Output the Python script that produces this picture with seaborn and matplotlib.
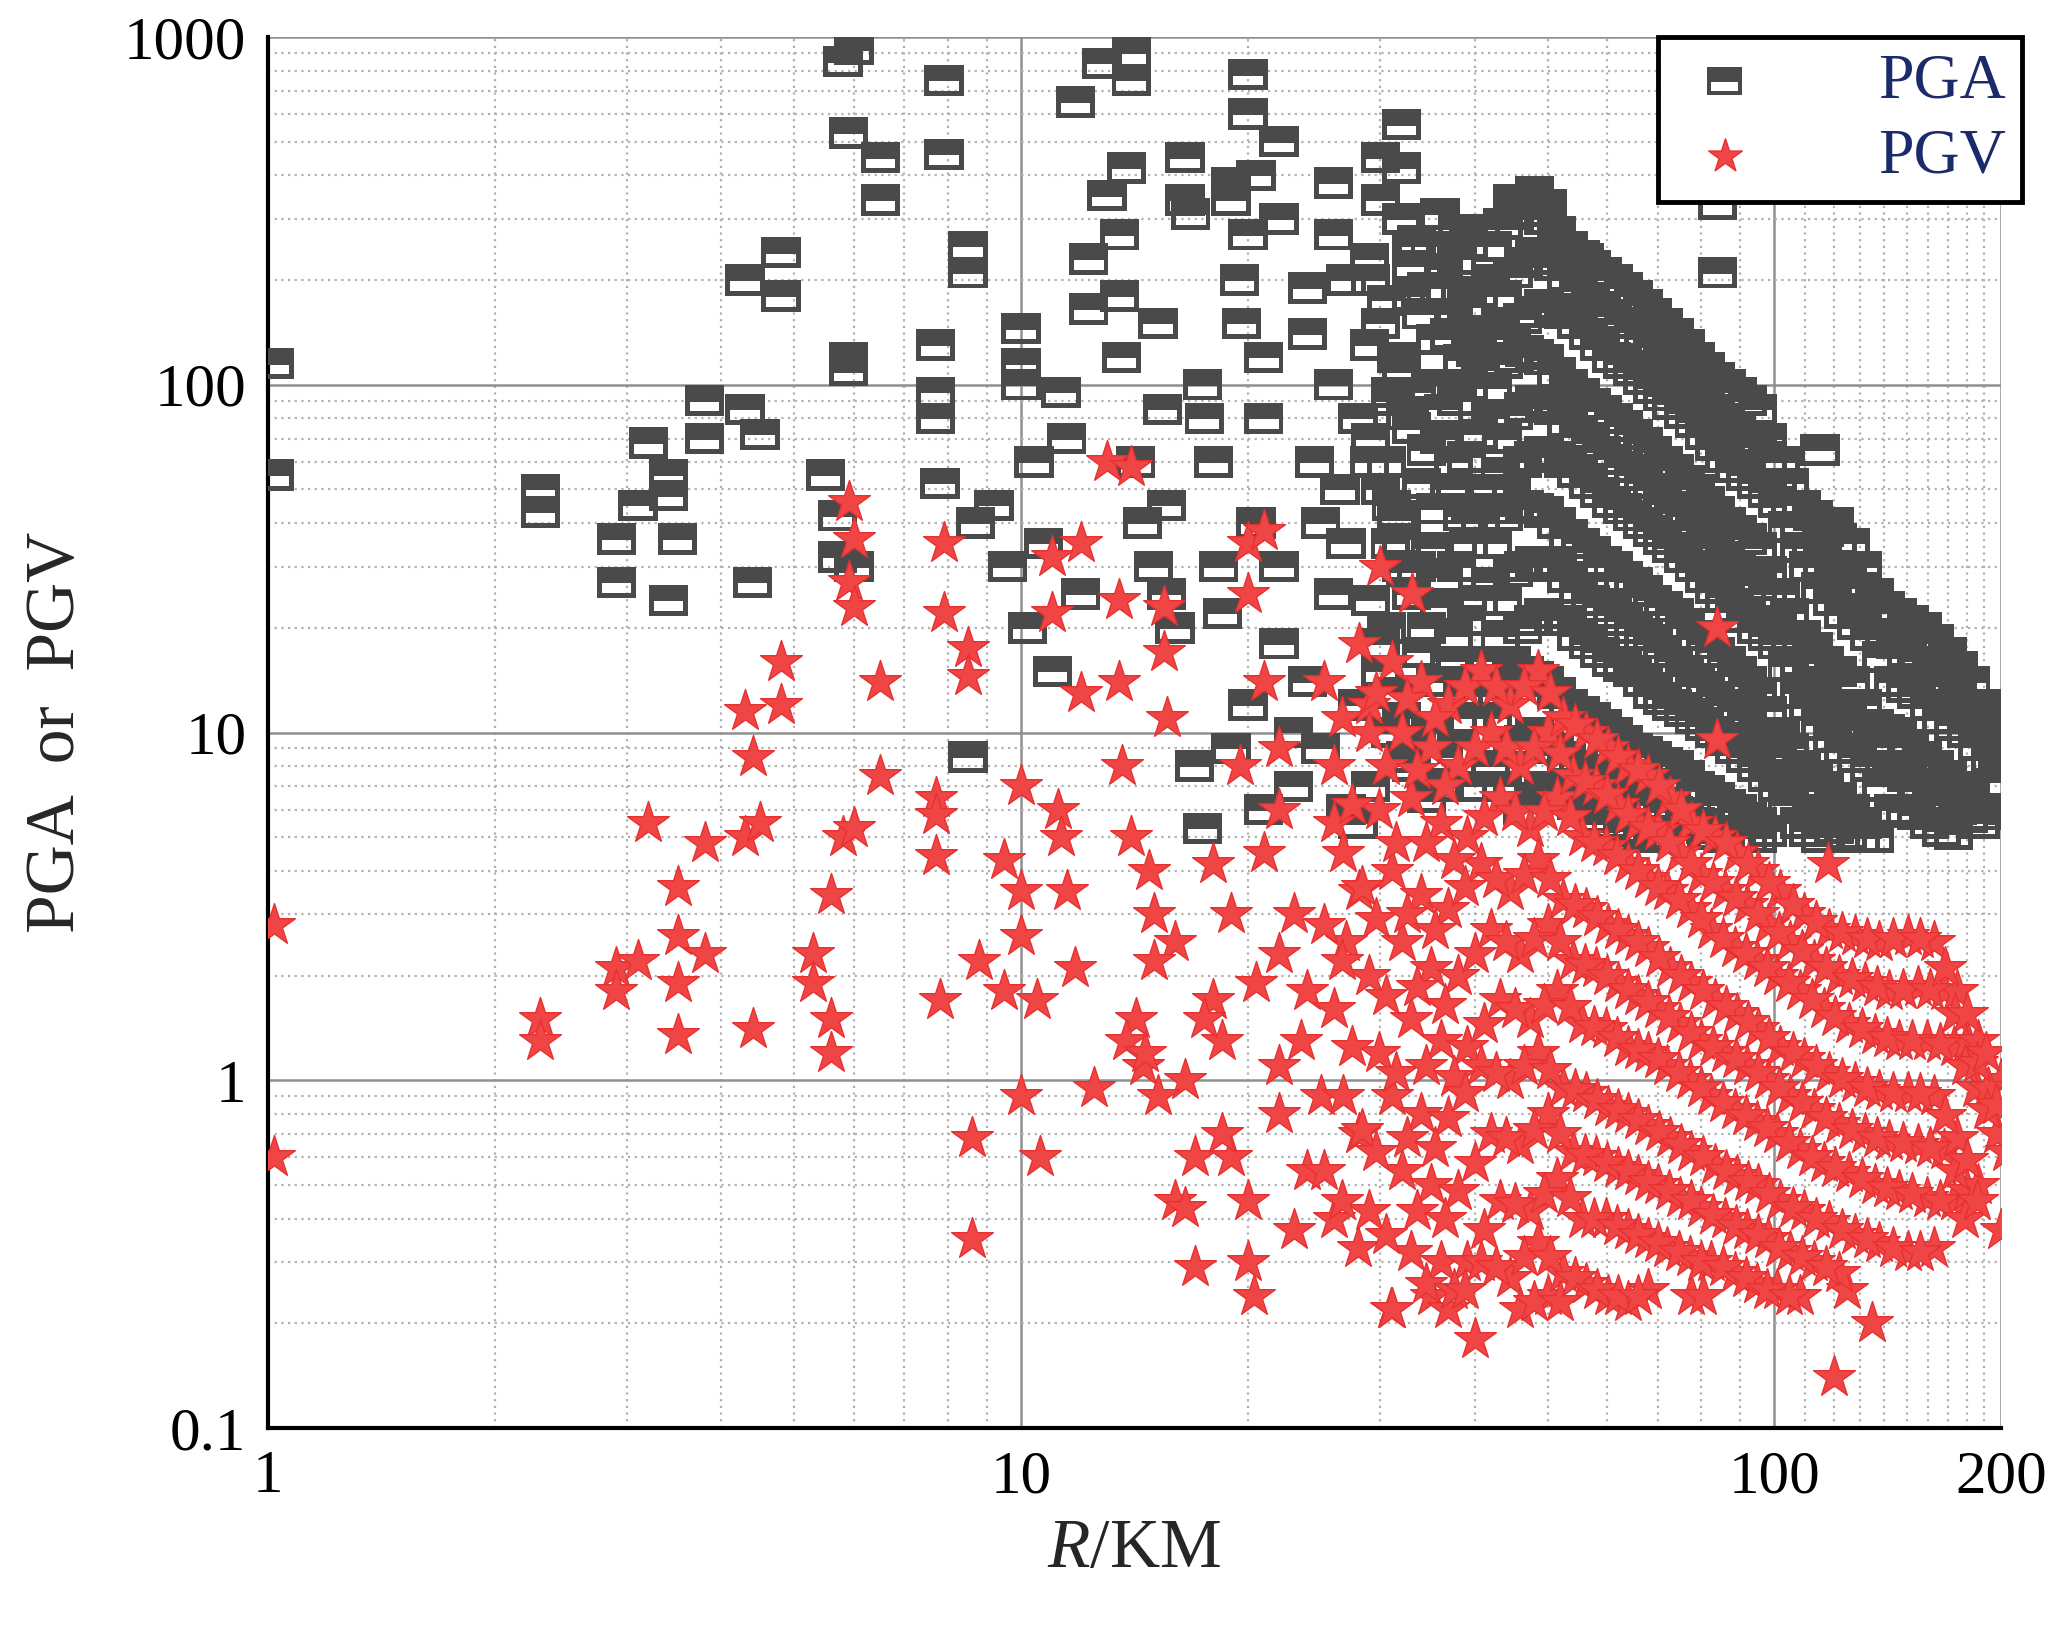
import matplotlib
matplotlib.use("Agg")
import matplotlib.pyplot as plt
import seaborn as sns
import pandas as pd
from matplotlib.path import Path
from matplotlib.ticker import FixedLocator, NullFormatter

# PGA points (R km, PGA)
pga_sparse = [(1.02,115),(1.02,55),(2.3,50),(2.3,43),(2.9,36),(2.9,27),(3.1,45),(3.2,68),(3.4,55),(3.4,48),
 (3.5,36),(3.4,24),(3.8,90),(3.8,70),(4.3,85),(4.3,200),(4.5,72),(4.4,27),(4.8,240),(4.8,180),(5.5,55),
 (5.7,42),(5.7,32),(6.0,30),(5.8,850),(6.0,920),(5.9,530),(5.9,120),(5.9,110),(6.5,450),(6.5,340),
 (7.7,130),(7.7,95),(7.7,80),(7.8,52),(7.9,750),(7.9,460),(8.5,250),(8.5,210),(8.5,8.5),(8.7,40),
 (9.2,45),(9.6,30),(10,145),(10,115),(10,100),(10.2,20),(10.4,60),(10.7,35),(11,15),(11.3,95),(11.5,70),
 (11.8,650),(12,25),(12.3,230),(12.3,165),(12.8,840),(13,350),(13.5,270),(13.5,180),(13.6,120),(13.8,420),
 (14,900),(14,750),(14.2,60),(14.5,40),(15,30),(15.2,150),(15.4,85),(15.6,45),(15.6,25),(16,20),(16.5,450),
 (16.5,340),(16.8,310),(17,8),(17.4,5.3),(17.4,100),(17.5,80),(18,60),(18.3,30),(18.5,22),(19,340),(19,380),
 (19.5,200),(19.6,150),(20,780),(20,600),(20,270),(20.5,400),(20.5,40),(21,120),(21,80),(22,500),(22,300),
 (22,30),(23,10),(23,7),(24,190),(24,140),(24.5,60),(25,40),(26,380),(26,270),(26,100),(26.5,50),(27,6),
 (27,200),(28,80),(29,230),(29,130),(30,450),(30,340),(31,90),(32,560),(32,420),(32,30),(33,250),(33,180),
 (19,9),(20,12),(21,6),(22,18),(24,14),(25,9),(26,25),(28,12),(27,35),(29,60),(30,18),(31,45),(28,5.5),
 (84,330),(84,210),(115,65),(120,40),(36,310),(38,280),(45,340),(48,360),(50,330),(52,250),(56,230)]
pga_cols = {
 30: [200,150,95,70,50,35,24,15,10,7],
 33: [300,220,160,110,75,52,36,25,17,11,8],
 36: [250,190,140,100,70,50,34,23,16,10,7],
 39: [230,170,125,90,62,44,30,21,14,9],
 42: [280,200,150,110,80,56,40,27,19,13,8],
 45: [290,210,155,115,82,60,42,29,20,14,9,6],
 48: [330,240,170,125,90,64,45,31,22,15,10,7],
 51: [300,220,160,118,85,60,43,30,21,14,9,6.5],
 55: [250,190,140,100,72,52,37,26,18,12,8,6],
 59: [220,165,120,88,64,46,33,23,16,11,7.5,5.5],
 63: [200,150,110,80,58,42,30,21,15,10,7,5.2],
 67: [180,135,98,72,52,38,27,19,13,9,6.5,5],
 71: [160,120,88,64,47,34,24,17,12,8.5,6,5],
 76: [140,105,78,57,42,30,22,15,11,8,5.8],
 81: [120,90,67,50,36,26,19,13.5,10,7,5.3],
 86: [105,80,58,43,32,23,17,12,9,6.5,5],
 92: [95,70,52,38,28,20,15,11,8,6,5],
 98: [85,62,46,34,25,18,13,9.5,7,5.5],
 105: [60,45,34,25,18,13,10,7.5,5.5],
 112: [45,34,26,19,14,10.5,8,6,5],
 120: [38,29,22,16,12,9,7,5.3],
 130: [35,26,19,14,10.5,8,6,5],
 140: [25,19,14,10.5,8,6,5],
 150: [22,17,13,10,7.5,5.8],
 162: [20,15,11,8.5,6.5,5.2],
 175: [17,13,10,7.5,6],
 188: [14,11,8.5,6.5,5.5],
 198: [10,8,6],
}
pga_cols_b = {
 31.5: [175,120,82,60,42,29,20,13,8.5],
 34.5: [260,190,135,95,65,44,30,20,14,9.5,6.5],
 37.5: [215,160,118,85,60,42,28,19,13,8.5],
 40.5: [255,185,138,100,72,50,35,24,16,11,7],
 43.5: [250,180,135,98,70,50,35,24,16,11,7],
 46.5: [310,225,162,120,86,62,44,30,21,14.5,9.5,6.5],
 49.5: [315,230,165,122,88,62,44,30,21,14.5,9.5,6.8],
 53: [275,205,150,108,78,56,40,28,19,13,8.5,6.2],
 57: [235,178,130,94,68,49,35,24,17,11.5,7.8,5.7],
 61: [210,158,115,84,61,44,31,22,15.5,10.5,7.2,5.3],
 65: [190,142,104,76,55,40,28,20,14,9.5,6.8,5.1],
 69: [170,128,93,68,50,36,25.5,18,12.5,8.8,6.2,5],
 73.5: [150,112,83,60,44,32,23,16,11.5,8.2,5.9],
 78.5: [130,97,72,53,39,28,20.5,14,10.5,7.5,5.5],
 83.5: [112,85,62,46,34,24.5,18,12.7,9.5,6.8,5.1],
 89: [100,75,55,40,30,21.5,16,11.5,8.5,6.2,5],
 95: [90,66,49,36,26.5,19,14,10,7.5,5.7,5],
 101: [70,52,39,29,21,15.5,11.5,8.5,6.2,5.2],
 108: [52,39,30,22,16,12,9,6.8,5.2],
 116: [42,31,24,17.5,13,9.7,7.5,5.6],
 125: [36,27,20.5,15,11.2,8.5,6.5,5.1],
 135: [30,22,16.5,12,9.2,7,5.5],
 145: [23,18,13.5,10.2,7.8,5.9],
 156: [21,16,12,9.2,7,5.5],
 168: [18.5,14,10.5,8,6.2,5.1],
 181: [15.5,12,9.2,7,5.7],
 194: [12,9.5,7.2,5.8],
}
# PGV points (R km, PGV)
pgv_sparse = [(1.02,2.8),(1.02,0.6),(2.3,1.5),(2.3,1.3),(2.9,2.1),(2.9,1.8),(3.1,2.2),(3.2,5.5),(3.5,3.6),
 (3.5,2.6),(3.5,1.9),(3.5,1.35),(3.8,4.8),(3.8,2.3),(4.3,11.5),(4.3,5),(4.4,8.5),(4.5,5.5),(4.4,1.4),(4.8,16),
 (4.8,12),(5.3,2.3),(5.3,1.9),(5.6,3.4),(5.6,1.5),(5.6,1.2),(5.8,5),(5.9,46),(5.9,27),(6,36),(6,23),(6,5.3),
 (6.5,14),(6.5,7.5),(7.7,6.5),(7.7,5.8),(7.7,4.4),(7.8,1.7),(7.9,35),(7.9,22),(8.5,17.5),(8.5,14.5),(8.6,0.68),
 (8.6,0.35),(8.8,2.2),(9.5,4.3),(9.5,1.8),(10,7),(10,3.5),(10,2.6),(10,0.9),(10.5,1.7),(10.6,0.6),(11,32),
 (11,22),(11.2,6),(11.3,5),(11.5,3.5),(11.8,2.1),(12,35),(12,13),(12.5,0.95),(13,60),(13.5,14),(13.6,8),
 (13.5,24),(14,58),(14,5),(14.2,1.5),(14.5,1.1),(15,3),(15.5,23),(15.5,17),(15.6,11),(16,2.5),(16,0.45),
 (16.5,0.43),(17,0.6),(17,0.29),(18,4.2),(18,1.7),(18.5,1.3),(19,3),(19,0.6),(20,35),(20,25),(20,0.45),
 (20,0.3),(20.4,0.24),(21,38),(21,14),(22,9),(22,6),(22,2.3),(22,1.1),(22,0.8),(23,0.37),(14.8,4),(15,2.2),
 (13.8,1.3),(16.5,1),(18.5,0.7),(19.5,8),(21,4.5),(23,3),(24,1.8),(24,0.55),(25,0.9),(26,5.5),(26,0.4),
 (27,2.5),(28,0.33),(29,12),(30,30),(31,0.22),(33,25),(35,0.24),(40,0.18),(84,20),(84,9.5),(118,4.2),
 (120,0.14),(125,0.25),(135,0.2),(200,0.37),(200,1),(15.2,0.9),(14.6,1.2),(17.5,1.5),(20.5,1.9),(23.5,1.3)]
pgv_cols = {
 26: [14,8,4.5,2.8,1.6,0.9,0.55],
 29: [18,10,6,3.5,2,1.2,0.7,0.42],
 32: [16,10,6.5,4,2.5,1.5,0.9,0.55,0.32,0.22],
 35: [14,9,5.5,3.4,2.1,1.3,0.8,0.5,0.3],
 38: [12,8,5,3.1,2,1.25,0.78,0.48,0.3,0.22],
 42: [15,10,6.5,4.2,2.7,1.7,1.1,0.7,0.45,0.3],
 46: [12,8,5.3,3.5,2.3,1.5,1,0.65,0.42,0.27,0.22],
 50: [15,10,6.5,4.3,2.8,1.8,1.2,0.8,0.52,0.34,0.24],
 54: [11,7.5,5,3.3,2.2,1.45,0.95,0.62,0.4,0.28],
 58: [10,7,4.7,3.1,2.1,1.4,0.92,0.6,0.4,0.26],
 62: [9,6.2,4.2,2.8,1.9,1.25,0.84,0.56,0.37,0.24],
 66: [8,5.5,3.8,2.6,1.75,1.2,0.8,0.53,0.35,0.23],
 70: [7.5,5.2,3.5,2.4,1.6,1.1,0.74,0.5,0.33,0.25],
 75: [6.5,4.5,3.1,2.1,1.45,1,0.68,0.46,0.31],
 80: [5.5,3.9,2.7,1.9,1.3,0.9,0.62,0.43,0.3,0.24],
 86: [5,3.5,2.4,1.7,1.2,0.82,0.57,0.4,0.28],
 92: [4.5,3.2,2.2,1.55,1.1,0.76,0.53,0.37,0.26],
 98: [4,2.8,2,1.4,1,0.7,0.5,0.35,0.25],
 105: [3.5,2.5,1.8,1.25,0.9,0.63,0.45,0.32,0.24],
 113: [3,2.2,1.6,1.15,0.82,0.58,0.42,0.3],
 122: [2.7,2,1.45,1.05,0.75,0.54,0.39,0.28],
 132: [2.6,1.9,1.35,0.98,0.7,0.5,0.36],
 142: [2.5,1.8,1.3,0.93,0.67,0.48,0.34],
 155: [2.6,1.85,1.3,0.92,0.65,0.46,0.32],
 168: [2.5,1.8,1.25,0.9,0.63,0.45,0.33],
 180: [1.8,1.3,0.95,0.68,0.48],
 192: [1.3,0.95,0.7,0.5],
}
pgv_cols_b = {
 27.5: [11,6.2,3.6,2.2,1.25,0.72,0.45],
 30.5: [13,8,4.8,2.9,1.75,1.05,0.62,0.36],
 33.5: [12.5,7.8,4.8,3,1.85,1.1,0.68,0.42,0.26],
 36.5: [11,7,4.3,2.7,1.65,1.02,0.64,0.4,0.25],
 40: [13.5,9,5.7,3.6,2.3,1.45,0.92,0.58,0.37,0.25],
 44: [13.5,9,5.9,3.8,2.5,1.6,1.05,0.68,0.44,0.29],
 48: [13.5,9,5.9,3.9,2.55,1.65,1.1,0.72,0.47,0.31,0.23],
 52: [13,8.7,5.7,3.8,2.5,1.62,1.07,0.7,0.46,0.31,0.23],
 56: [10.5,7.2,4.8,3.2,2.15,1.42,0.94,0.61,0.4,0.27],
 60: [9.5,6.6,4.4,2.95,2,1.32,0.88,0.58,0.38,0.25],
 64: [8.5,5.8,4,2.7,1.82,1.22,0.82,0.55,0.36,0.24],
 68: [7.8,5.3,3.6,2.5,1.68,1.15,0.77,0.51,0.34,0.24],
 72.5: [7,4.8,3.3,2.25,1.52,1.05,0.71,0.48,0.32],
 77.5: [6,4.2,2.9,2,1.37,0.95,0.65,0.45,0.3],
 83: [5.2,3.7,2.55,1.8,1.25,0.86,0.6,0.41,0.29,0.24],
 89: [4.8,3.35,2.3,1.62,1.15,0.79,0.55,0.38,0.27],
 95: [4.2,3,2.1,1.47,1.05,0.73,0.51,0.36,0.25],
 101.5: [3.7,2.65,1.9,1.32,0.95,0.66,0.47,0.33,0.24],
 109: [3.2,2.35,1.7,1.2,0.86,0.6,0.43,0.31],
 117: [2.85,2.1,1.52,1.1,0.78,0.56,0.4,0.29],
 127: [2.65,1.95,1.4,1.01,0.72,0.52,0.37],
 137: [2.55,1.85,1.32,0.95,0.68,0.49,0.35],
 148: [2.55,1.82,1.3,0.92,0.66,0.47,0.33],
 161: [2.55,1.82,1.27,0.91,0.64,0.45,0.32],
 174: [2.1,1.55,1.1,0.79,0.55,0.4],
 186: [1.55,1.12,0.82,0.59,0.45],
 197: [1.2,0.85,0.62],
}

def to_df(sparse, colsets, name):
    rows = list(sparse)
    for cols in colsets:
        for r, vals in cols.items():
            for k, v in enumerate(vals):
                rows.append((r * (1 + 0.03 * ((k % 3) - 1)), v))
    d = pd.DataFrame(rows, columns=["R", "val"])
    d["kind"] = name
    return d

df = pd.concat([to_df(pga_sparse, [pga_cols, pga_cols_b], "PGA"),
                to_df(pgv_sparse, [pgv_cols, pgv_cols_b], "PGV")])

sns.set_theme(style="white")
plt.rcParams['font.family'] = ['Liberation Serif', 'DejaVu Serif']
plt.rcParams['mathtext.fontset'] = 'custom'
plt.rcParams['mathtext.rm'] = 'Liberation Serif'
plt.rcParams['mathtext.it'] = 'Liberation Serif:italic'

# PGA marker: dark top, white lower box with border
verts = [(-1,-0.8),(1,-0.8),(1,0.8),(-1,0.8),(-1,-0.8),
         (-0.75,-0.55),(-0.75,-0.05),(0.75,-0.05),(0.75,-0.55),(-0.75,-0.55)]
codes = [Path.MOVETO,Path.LINETO,Path.LINETO,Path.LINETO,Path.CLOSEPOLY]*2
pga_marker = Path(verts, codes)

fig = plt.figure(figsize=(20.56, 16.38), dpi=100)
ax = fig.add_axes([268/2056, 1-1428/1638, (2001-268)/2056, (1428-37)/1638])
ax.set_xscale("log"); ax.set_yscale("log")
ax.set_xlim(1, 200); ax.set_ylim(0.1, 1000)

ax.grid(True, which="minor", color="#b0b0b0", linestyle=(0, (1, 2)), linewidth=1.6)
ax.grid(True, which="major", color="#909090", linestyle="-", linewidth=1.8)
ax.set_axisbelow(True)

sns.scatterplot(data=df[df.kind == "PGA"], x="R", y="val", marker=pga_marker, s=800,
                color="#4a4a4a", edgecolor="none", linewidth=0, ax=ax, label="PGA", zorder=3)
sns.scatterplot(data=df[df.kind == "PGV"], x="R", y="val", marker="*", s=1000,
                color="#f04545", edgecolor="#e83030", linewidth=1.0, ax=ax, label="PGV", zorder=4)

ax.xaxis.set_major_locator(FixedLocator([1, 10, 100, 200]))
ax.set_xticklabels(["1", "10", "100", "200"])
ax.xaxis.set_minor_locator(FixedLocator([2,3,4,5,6,7,8,9,20,30,40,50,60,70,80,90,110,120,130,140,150,160,170,180,190]))
ax.xaxis.set_minor_formatter(NullFormatter())
ax.set_yticks([0.1, 1, 10, 100, 1000])
ax.set_yticklabels(["0.1", "1", "10", "100", "1000"])
ax.yaxis.set_minor_locator(FixedLocator([m * 10.0**e for e in range(-1, 3) for m in range(2, 10)]))
ax.yaxis.set_minor_formatter(NullFormatter())
ax.tick_params(axis="both", which="major", labelsize=44, length=12, width=2.5, direction="out", colors="black")
ax.tick_params(axis="both", which="minor", length=7, width=2, direction="out")
for s in ["left", "bottom"]:
    ax.spines[s].set_linewidth(3); ax.spines[s].set_color("black")
for s in ["top", "right"]:
    ax.spines[s].set_visible(False)

ax.set_xlabel("$R$/KM", fontsize=50, labelpad=10)
ax.set_ylabel("PGA  or  PGV", fontsize=50, labelpad=25)

leg = ax.legend(loc="upper right", fontsize=46, frameon=True, fancybox=False, edgecolor="black",
                handletextpad=1.6, handlelength=1.6, borderpad=0.25, labelspacing=0.25, framealpha=1,
                borderaxespad=0, bbox_to_anchor=(1.012, 1.0))
for h in leg.legend_handles:
    h.set_sizes([650])
leg.get_frame().set_linewidth(3.5)
leg.set_zorder(10)
for t in leg.get_texts():
    t.set_color("#1a2a6a")

fig.savefig("out.png", dpi=100, facecolor="white")
